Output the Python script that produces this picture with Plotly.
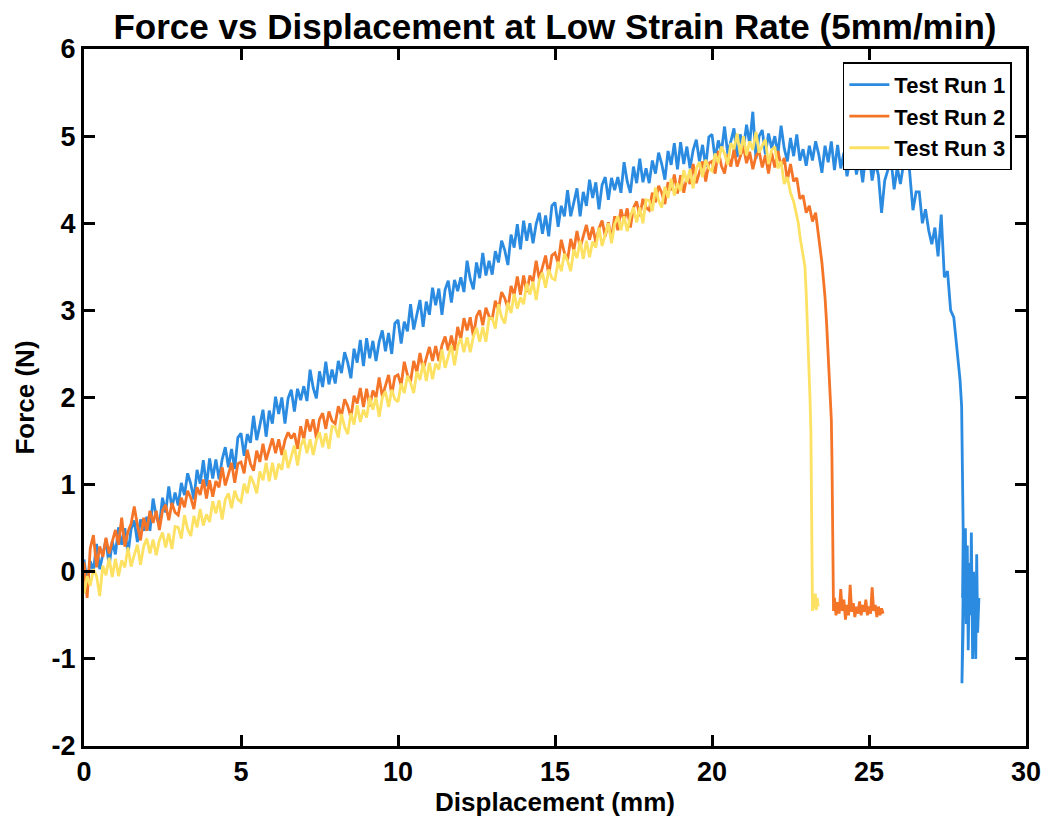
import plotly.graph_objects as go

# displacement grid (mm) shared by the three runs, sampled every 0.1 mm
disp_grid = [
    0.0, 0.1, 0.2, 0.3, 0.4, 0.5, 0.6, 0.7, 0.8, 0.9,
    1.0, 1.1, 1.2, 1.3, 1.4, 1.5, 1.6, 1.7, 1.8, 1.9,
    2.0, 2.1, 2.2, 2.3, 2.4, 2.5, 2.6, 2.7, 2.8, 2.9,
    3.0, 3.1, 3.2, 3.3, 3.4, 3.5, 3.6, 3.7, 3.8, 3.9,
    4.0, 4.1, 4.2, 4.3, 4.4, 4.5, 4.6, 4.7, 4.8, 4.9,
    5.0, 5.1, 5.2, 5.3, 5.4, 5.5, 5.6, 5.7, 5.8, 5.9,
    6.0, 6.1, 6.2, 6.3, 6.4, 6.5, 6.6, 6.7, 6.8, 6.9,
    7.0, 7.1, 7.2, 7.3, 7.4, 7.5, 7.6, 7.7, 7.8, 7.9,
    8.0, 8.1, 8.2, 8.3, 8.4, 8.5, 8.6, 8.7, 8.8, 8.9,
    9.0, 9.1, 9.2, 9.3, 9.4, 9.5, 9.6, 9.7, 9.8, 9.9,
    10.0, 10.1, 10.2, 10.3, 10.4, 10.5, 10.6, 10.7, 10.8, 10.9,
    11.0, 11.1, 11.2, 11.3, 11.4, 11.5, 11.6, 11.7, 11.8, 11.9,
    12.0, 12.1, 12.2, 12.3, 12.4, 12.5, 12.6, 12.7, 12.8, 12.9,
    13.0, 13.1, 13.2, 13.3, 13.4, 13.5, 13.6, 13.7, 13.8, 13.9,
    14.0, 14.1, 14.2, 14.3, 14.4, 14.5, 14.6, 14.7, 14.8, 14.9,
    15.0, 15.1, 15.2, 15.3, 15.4, 15.5, 15.6, 15.7, 15.8, 15.9,
    16.0, 16.1, 16.2, 16.3, 16.4, 16.5, 16.6, 16.7, 16.8, 16.9,
    17.0, 17.1, 17.2, 17.3, 17.4, 17.5, 17.6, 17.7, 17.8, 17.9,
    18.0, 18.1, 18.2, 18.3, 18.4, 18.5, 18.6, 18.7, 18.8, 18.9,
    19.0, 19.1, 19.2, 19.3, 19.4, 19.5, 19.6, 19.7, 19.8, 19.9,
    20.0, 20.1, 20.2, 20.3, 20.4, 20.5, 20.6, 20.7, 20.8, 20.9,
    21.0, 21.1, 21.2, 21.3, 21.4, 21.5, 21.6, 21.7, 21.8, 21.9,
    22.0, 22.1, 22.2, 22.3, 22.4, 22.5, 22.6, 22.7, 22.8, 22.9,
    23.0, 23.1, 23.2, 23.3, 23.4, 23.5, 23.6, 23.7, 23.8, 23.9,
    24.0, 24.1, 24.2, 24.3, 24.4, 24.5, 24.6, 24.7, 24.8, 24.9,
    25.0, 25.1, 25.2, 25.3, 25.4, 25.5, 25.6, 25.7, 25.8, 25.9,
    26.0, 26.1, 26.2, 26.3, 26.4, 26.5, 26.6, 26.7, 26.8, 26.9,
    27.0, 27.1, 27.2, 27.3, 27.4, 27.5, 27.6, 27.7,
]

# Test Run 1 force (N) on the grid, then the fracture tail
run1_force = [
    0.14, -0.13, 0.12, 0.01, 0.32, 0.03, 0.20, 0.37, 0.06, 0.35,
    0.20, 0.51, 0.31, 0.50, 0.20, 0.49, 0.59, 0.34, 0.60, 0.47,
    0.63, 0.47, 0.84, 0.64, 0.53, 0.85, 0.68, 0.98, 0.73, 0.91,
    0.76, 1.02, 0.88, 1.13, 1.01, 0.83, 1.17, 1.01, 1.28, 0.98,
    1.30, 1.07, 1.29, 1.06, 1.29, 1.43, 1.20, 1.41, 1.18, 1.54,
    1.59, 1.33, 1.58, 1.48, 1.79, 1.51, 1.68, 1.86, 1.55, 1.85,
    1.70, 2.01, 1.81, 2.00, 1.70, 1.99, 2.09, 1.84, 2.10, 1.97,
    2.13, 1.96, 2.32, 2.11, 1.99, 2.30, 2.12, 2.41, 2.15, 2.32,
    2.16, 2.42, 2.28, 2.52, 2.40, 2.22, 2.56, 2.40, 2.66, 2.36,
    2.68, 2.45, 2.65, 2.42, 2.64, 2.77, 2.53, 2.74, 2.50, 2.85,
    2.89, 2.62, 2.87, 2.76, 3.07, 2.78, 2.95, 3.12, 2.81, 3.10,
    2.95, 3.26, 3.06, 3.25, 2.95, 3.24, 3.34, 3.09, 3.35, 3.22,
    3.38, 3.21, 3.57, 3.36, 3.24, 3.55, 3.37, 3.66, 3.40, 3.57,
    3.41, 3.68, 3.55, 3.80, 3.69, 3.52, 3.87, 3.72, 3.99, 3.70,
    4.03, 3.80, 4.00, 3.77, 3.99, 4.12, 3.88, 4.09, 3.85, 4.20,
    4.24, 3.96, 4.20, 4.08, 4.38, 4.08, 4.24, 4.40, 4.08, 4.36,
    4.20, 4.50, 4.29, 4.47, 4.16, 4.44, 4.53, 4.27, 4.52, 4.38,
    4.53, 4.35, 4.70, 4.48, 4.35, 4.65, 4.46, 4.74, 4.47, 4.63,
    4.46, 4.72, 4.57, 4.81, 4.68, 4.50, 4.83, 4.67, 4.92, 4.62,
    4.93, 4.68, 4.88, 4.63, 4.84, 4.96, 4.71, 4.90, 4.65, 4.99,
    5.02, 4.73, 4.95, 4.82, 5.11, 4.80, 4.94, 5.09, 4.76, 5.02,
    4.85, 5.13, 4.91, 5.28, 4.74, 5.00, 5.07, 4.79, 5.03, 4.86,
    5.00, 4.79, 5.12, 4.86, 4.71, 4.98, 4.77, 5.02, 4.72, 4.85,
    4.66, 4.89, 4.72, 4.94, 4.79, 4.58, 4.89, 4.70, 4.94, 4.61,
    4.90, 4.63, 4.81, 4.54, 4.74, 4.83, 4.56, 4.74, 4.47, 4.79,
    4.80, 4.49, 4.70, 4.55, 4.12, 4.49, 4.61, 4.74, 4.39, 4.64,
    4.45, 4.68, 4.98, 4.52, 4.15, 4.36, 4.36, 4.00, 4.16, 3.92,
    3.76, 3.95, 3.62, 4.10, 3.38, 3.45, 3.00, 2.92,
]
run1_tail_x = [27.75, 27.8, 27.85, 27.9, 27.95, 27.97, 28.0, 27.98, 28.02, 27.96,
               28.04, 28.07, 28.1, 28.13, 28.16, 28.2, 28.23, 28.26, 28.3, 28.33,
               28.36, 28.4, 28.43, 28.46, 28.5]
run1_tail_force = [2.75, 2.55, 2.45, 2.2, 1.9, 1.2, 0.45, -0.3, 0.4, -1.28,
                   -0.2, 0.5, -0.6, 0.3, -0.9, 0.1, -0.5, 0.45, -1.0, 0.0,
                   -0.4, -1.0, 0.2, -0.7, -0.3]

# Test Run 2
run2_force = [
    0.11, -0.30, 0.27, 0.42, 0.05, 0.29, 0.17, 0.39, 0.21, 0.35,
    0.48, 0.31, 0.62, 0.29, 0.46, 0.55, 0.75, 0.54, 0.36, 0.62,
    0.47, 0.70, 0.56, 0.70, 0.48, 0.70, 0.77, 0.59, 0.79, 0.68,
    0.65, 0.85, 0.74, 0.93, 0.85, 0.72, 0.97, 0.88, 1.06, 0.84,
    1.05, 0.86, 1.04, 0.97, 1.20, 0.99, 1.12, 1.25, 1.02, 1.24,
    1.26, 1.13, 1.40, 1.24, 1.16, 1.39, 1.26, 1.47, 1.28, 1.41,
    1.53, 1.36, 1.52, 1.34, 1.51, 1.60, 1.53, 1.59, 1.41, 1.67,
    1.52, 1.75, 1.61, 1.75, 1.53, 1.75, 1.82, 1.64, 1.84, 1.73,
    1.70, 1.90, 1.79, 1.98, 1.90, 1.77, 2.02, 1.93, 2.11, 1.89,
    2.10, 1.90, 2.08, 2.00, 2.23, 2.01, 2.14, 2.26, 2.03, 2.24,
    2.26, 2.14, 2.41, 2.26, 2.18, 2.42, 2.29, 2.51, 2.32, 2.46,
    2.58, 2.42, 2.59, 2.42, 2.60, 2.70, 2.54, 2.71, 2.54, 2.81,
    2.67, 2.91, 2.77, 2.92, 2.70, 2.93, 3.00, 2.83, 3.03, 2.93,
    2.90, 3.11, 3.01, 3.21, 3.14, 3.02, 3.28, 3.18, 3.39, 3.18,
    3.40, 3.21, 3.40, 3.33, 3.57, 3.36, 3.50, 3.63, 3.41, 3.63,
    3.66, 3.54, 3.81, 3.66, 3.58, 3.82, 3.69, 3.91, 3.72, 3.86,
    3.98, 3.81, 3.96, 3.78, 3.94, 4.03, 3.85, 4.01, 3.82, 4.08,
    3.92, 4.16, 4.02, 4.17, 3.95, 4.18, 4.25, 4.08, 4.28, 4.18,
    4.15, 4.35, 4.24, 4.43, 4.35, 4.22, 4.47, 4.38, 4.56, 4.34,
    4.55, 4.35, 4.53, 4.45, 4.68, 4.46, 4.59, 4.71, 4.48, 4.69,
    4.71, 4.57, 4.83, 4.66, 4.57, 4.79, 4.65, 4.85, 4.65, 4.77,
    4.88, 4.69, 4.82, 4.62, 4.77, 4.83, 4.64, 4.78, 4.57, 4.81,
    4.64, 4.83, 4.65, 4.75, 4.49, 4.68, 4.48, 4.52, 4.28, 4.32,
    4.12, 4.20, 4.02, 4.12,
]
run2_tail_x = [23.4, 23.45, 23.5, 23.55, 23.6, 23.65, 23.7, 23.75, 23.8, 23.82,
               23.84, 23.86, 23.87, 23.9, 23.95, 24.0, 24.05, 24.1, 24.15, 24.2,
               24.25, 24.3, 24.35, 24.4, 24.45, 24.5, 24.55, 24.6, 24.65, 24.7,
               24.75, 24.8, 24.85, 24.9, 24.95, 25.0, 25.05, 25.1, 25.15, 25.2,
               25.25, 25.3, 25.35, 25.4, 25.45]
run2_tail_force = [3.85, 3.7, 3.55, 3.35, 3.15, 2.85, 2.5, 2.15, 1.75, 1.3,
                   0.7, 0.0, -0.45, -0.3, -0.5, -0.35, -0.48, -0.2, -0.45, -0.32,
                   -0.55, -0.38, -0.5, -0.15, -0.46, -0.36, -0.52, -0.4, -0.48, -0.34,
                   -0.5, -0.38, -0.46, -0.32, -0.5, -0.4, -0.48, -0.18, -0.45, -0.38,
                   -0.52, -0.4, -0.5, -0.42, -0.48]

# Test Run 3
run3_force = [
    -0.25, -0.05, -0.16, 0.03, -0.05, -0.28, 0.07, -0.04, 0.16, -0.06,
    0.15, -0.05, 0.13, 0.05, 0.28, 0.06, 0.19, 0.31, 0.08, 0.29,
    0.38, 0.21, 0.37, 0.19, 0.36, 0.45, 0.28, 0.44, 0.26, 0.52,
    0.51, 0.38, 0.65, 0.49, 0.41, 0.64, 0.51, 0.72, 0.53, 0.66,
    0.57, 0.81, 0.67, 0.82, 0.60, 0.83, 0.90, 0.73, 0.93, 0.83,
    0.80, 1.01, 0.90, 1.10, 1.02, 0.90, 1.15, 1.05, 1.25, 1.04,
    1.25, 1.06, 1.24, 1.17, 1.40, 1.19, 1.32, 1.45, 1.22, 1.44,
    1.53, 1.36, 1.52, 1.34, 1.51, 1.60, 1.43, 1.59, 1.41, 1.67,
    1.66, 1.54, 1.81, 1.66, 1.58, 1.82, 1.69, 1.91, 1.72, 1.86,
    1.77, 2.00, 1.86, 2.00, 1.78, 2.00, 2.07, 1.89, 2.09, 1.98,
    1.95, 2.16, 2.05, 2.25, 2.17, 2.05, 2.30, 2.20, 2.40, 2.19,
    2.40, 2.21, 2.39, 2.32, 2.55, 2.34, 2.47, 2.60, 2.37, 2.59,
    2.68, 2.52, 2.69, 2.52, 2.70, 2.80, 2.64, 2.81, 2.64, 2.91,
    2.91, 2.79, 3.07, 2.92, 2.85, 3.09, 2.97, 3.19, 3.02, 3.15,
    3.07, 3.31, 3.18, 3.33, 3.12, 3.35, 3.43, 3.26, 3.47, 3.37,
    3.35, 3.56, 3.45, 3.65, 3.57, 3.45, 3.70, 3.60, 3.80, 3.59,
    3.80, 3.61, 3.79, 3.72, 3.95, 3.74, 3.87, 4.00, 3.77, 3.99,
    4.08, 3.92, 4.08, 3.91, 4.08, 4.18, 4.01, 4.18, 4.00, 4.27,
    4.26, 4.14, 4.41, 4.26, 4.18, 4.42, 4.29, 4.51, 4.32, 4.46,
    4.37, 4.61, 4.47, 4.62, 4.40, 4.63, 4.70, 4.53, 4.73, 4.63,
    4.60, 4.80, 4.69, 4.88, 4.80, 4.67, 4.92, 4.85, 5.03, 4.79,
    5.00, 4.78, 4.94, 4.84, 5.05, 4.81, 4.89, 4.96, 4.68, 4.84,
    4.88, 4.63, 4.71, 4.45, 4.53,
]
run3_tail_x = [22.5, 22.6, 22.7, 22.75, 22.8, 22.85, 22.9, 22.96, 23.0, 23.03,
               23.06, 23.09, 23.12, 23.15, 23.16, 23.17, 23.18, 23.2, 23.23, 23.26,
               23.29, 23.32, 23.35, 23.38]
run3_tail_force = [4.35, 4.25, 4.10, 4.00, 3.85, 3.75, 3.62, 3.50, 3.2, 2.95,
                   2.65, 2.4, 2.0, 1.6, 1.0, 0.4, -0.2, -0.45, -0.3, -0.42,
                   -0.25, -0.44, -0.3, -0.4]

run_names = ["Test Run 1", "Test Run 2", "Test Run 3"]
run_colors = ["#2b8be0", "#f47428", "#fde162"]

x_ticks = [0, 5, 10, 15, 20, 25, 30]
y_ticks = [-2, -1, 0, 1, 2, 3, 4, 5, 6]
y_tick_text = ["-2", "-1", "0", "1", "2", "3", "4", "5", "6"]

runs = [
    (disp_grid[:len(run1_force)] + run1_tail_x, run1_force + run1_tail_force),
    (disp_grid[:len(run2_force)] + run2_tail_x, run2_force + run2_tail_force),
    (disp_grid[:len(run3_force)] + run3_tail_x, run3_force + run3_tail_force),
]

FONT = "Liberation Sans, Arial, sans-serif"
# the page body has an 8px margin, so the figure is sized to fit inside the window
W, H = 1043, 823

fig = go.Figure()
for (xs, ys), name, color in zip(runs, run_names, run_colors):
    fig.add_trace(go.Scatter(x=xs, y=ys, mode="lines", name=name,
                             line=dict(color=color, width=2.8)))

axis_common = dict(
    showgrid=False, zeroline=False, showline=True, linecolor="black", linewidth=3,
    mirror="ticks", ticks="inside", ticklen=11, tickwidth=2.5, tickcolor="black",
    automargin=False,
    tickfont=dict(family=FONT, size=27, color="black", weight="bold"),
)
fig.update_xaxes(range=[0, 30], tickvals=x_ticks, **axis_common,
                 title=dict(text="Displacement (mm)", standoff=2,
                            font=dict(family=FONT, size=26, color="black", weight="bold")))
fig.update_yaxes(range=[-2, 6], tickvals=y_ticks, ticktext=y_tick_text, **axis_common,
                 title=dict(text="Force (N)", standoff=10,
                            font=dict(family=FONT, size=26, color="black", weight="bold")))

fig.update_layout(
    width=W, height=H,
    margin=dict(l=76, r=25, t=41, b=85),
    paper_bgcolor="white", plot_bgcolor="white",
    title=dict(text="Force vs Displacement at Low Strain Rate (5mm/min)",
               x=0.5, xref="paper", xanchor="center",
               y=1 - 19 / H, yref="container", yanchor="middle",
               font=dict(family=FONT, size=35, color="black", weight="bold")),
    legend=dict(x=0.985, y=0.981, xanchor="right", yanchor="top",
                bgcolor="white", bordercolor="black", borderwidth=1.5,
                font=dict(family=FONT, size=22, color="black", weight="bold"),
                tracegroupgap=0, itemwidth=40),
    showlegend=True,
)

fig.write_html("out.html")
